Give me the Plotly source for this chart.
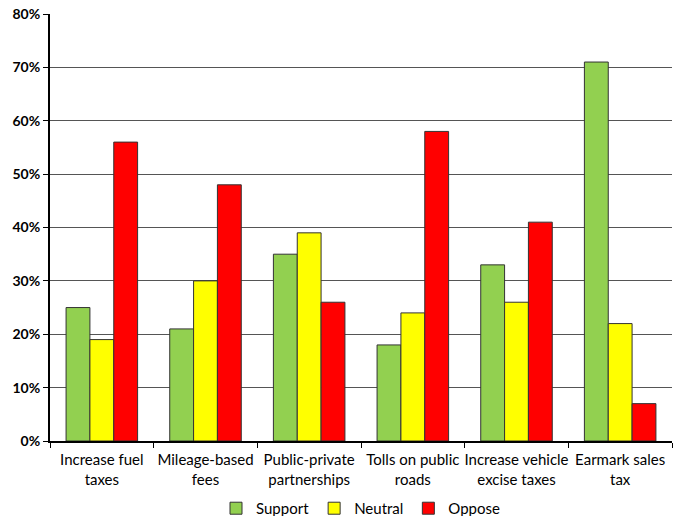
import plotly.graph_objects as go

categories = ["Increase fuel<br>taxes", "Mileage-based<br>fees", "Public-private<br>partnerships",
              "Tolls on public<br>roads", "Increase vehicle<br>excise taxes", "Earmark sales<br>tax"]
support = [25, 21, 35, 18, 33, 71]
neutral = [19, 30, 39, 24, 26, 22]
oppose = [56, 48, 26, 58, 41, 7]
series = [("Support", support, "#92D050"), ("Neutral", neutral, "#FFFF00"), ("Oppose", oppose, "#FF0000")]

fig = go.Figure()
for name, vals, col in series:
    fig.add_trace(go.Bar(x=categories, y=vals, name=name, marker_color=col,
                         marker_line=dict(color="#333333", width=1)))

font = "Lato, Open Sans, sans-serif"
fig.update_layout(
    width=679, height=516,
    margin=dict(l=50, r=7, t=14, b=75, autoexpand=False),
    paper_bgcolor="white", plot_bgcolor="white",
    barmode="group", bargap=0.31, bargroupgap=0,
    font=dict(family=font, size=14, color="black"),
    legend=dict(orientation="h", x=0.5, xanchor="center", y=-0.158, yanchor="middle",
                font=dict(size=15), itemwidth=30, tracegroupgap=0),
    xaxis=dict(showline=True, linecolor="black", linewidth=2, ticks="outside",
               tickson="boundaries", ticklen=5, tickcolor="black", tickangle=0,
               ticklabelstandoff=4, automargin=False, tickfont=dict(size=15)),
    yaxis=dict(range=[0, 80], dtick=10, ticksuffix="%", showline=True, linecolor="black",
               linewidth=2, ticks="outside", ticklen=5, tickcolor="black", automargin=False,
               gridcolor="#555555", gridwidth=1, zeroline=False,
               tickfont=dict(size=14, family=font, weight="bold")),
)
fig.write_html("out.html")
